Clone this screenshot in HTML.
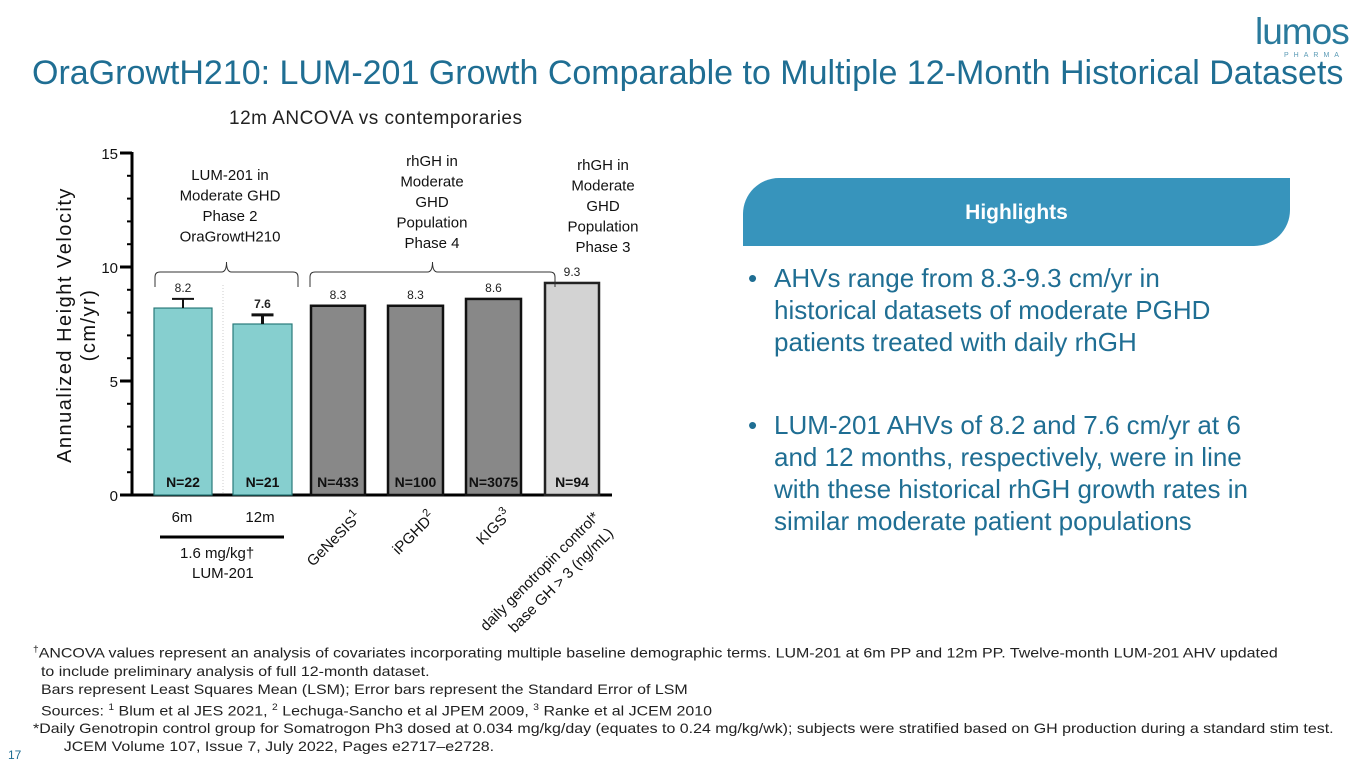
<!DOCTYPE html>
<html><head><meta charset="utf-8"><style>
body{margin:0;width:1365px;height:768px;background:#fff;position:relative;overflow:hidden;font-family:"Liberation Sans",sans-serif}
.abs{position:absolute}
</style></head><body>
<div class="abs" style="left:32px;top:54px;font-size:34px;color:#1f6e93;white-space:nowrap">OraGrowtH210: LUM-201 Growth Comparable to Multiple 12-Month Historical Datasets</div>
<div class="abs" style="left:1255px;top:12px;color:#2a7a9c;font-size:37px;letter-spacing:-1px;line-height:40px">lumos</div>
<div class="abs" style="left:1284px;top:52px;color:#5a9ab5;font-size:7px;letter-spacing:5px">PHARMA</div>
<div class="abs" style="left:229px;top:108px;font-size:19px;color:#222;letter-spacing:0.5px">12m ANCOVA vs contemporaries</div>

<svg class="abs" style="left:0;top:0" width="740" height="640">
<g id="g"></g>
</svg>

<div class="abs" style="left:743px;top:178px;width:547px;height:68px;background:#3794bc;border-radius:36px 0 36px 0;color:#fff;font-weight:bold;font-size:21px;text-align:center;line-height:70px">Highlights</div>
<div class="abs" style="left:748px;top:262px;width:600px;font-size:26px;color:#1f6e93;line-height:32px;white-space:nowrap">
<div style="display:flex"><span style="width:26px">•</span><span style="flex:1">AHVs range from 8.3-9.3 cm/yr in<br>historical datasets of moderate PGHD<br>patients treated with daily rhGH</span></div>
<div style="display:flex;margin-top:51px"><span style="width:26px">•</span><span style="flex:1">LUM-201 AHVs of 8.2 and 7.6 cm/yr at 6<br>and 12 months, respectively, were in line<br>with these historical rhGH growth rates in<br>similar moderate patient populations</span></div>
</div>
<div class="abs" style="left:33px;top:640px;font-size:14px;color:#222;line-height:18px;white-space:nowrap;transform:scaleX(1.14);transform-origin:0 0">
<div><sup style="font-size:9px">†</sup>ANCOVA values represent an analysis of covariates incorporating multiple baseline demographic terms. LUM-201 at 6m PP and 12m PP. Twelve-month LUM-201 AHV updated</div>
<div style="padding-left:7px">to include preliminary analysis of full 12-month dataset.</div>
<div style="padding-left:7px">Bars represent Least Squares Mean (LSM); Error bars represent the Standard Error of LSM</div>
<div style="padding-left:7px">Sources: <sup style="font-size:9px">1</sup> Blum et al JES 2021, <sup style="font-size:9px">2</sup> Lechuga-Sancho et al JPEM 2009, <sup style="font-size:9px">3</sup> Ranke et al JCEM 2010</div>
<div>*Daily Genotropin control group for Somatrogon Ph3 dosed at 0.034 mg/kg/day (equates to 0.24 mg/kg/wk); subjects were stratified based on GH production during a standard stim test.</div>
<div style="padding-left:27px">JCEM Volume 107, Issue 7, July 2022, Pages e2717–e2728.</div>
</div>
<div class="abs" style="left:8px;top:748px;font-size:12px;color:#1f6e93">17</div>

<script>
const categories=["6m","12m","GeNeSIS","iPGHD","KIGS","daily genotropin control*"];
const values=[8.2,7.5,8.3,8.3,8.6,9.3];
const printedValues=["8.2","7.6","8.3","8.3","8.6","9.3"];
const errors=[0.4,0.4,0,0,0,0];
const nLabels=["N=22","N=21","N=433","N=100","N=3075","N=94"];
const yTicks=[0,5,10,15];
const NS="http://www.w3.org/2000/svg";
const g=document.getElementById('g');
const y0=495,pxu=22.8,ax=132;
const y=v=>y0-v*pxu;
const barX=[154,233,311,388,466,545],barW=[58,59,54,55,55,54];
const fills=["#86cfcf","#86cfcf","#888","#888","#888","#d3d3d3"];
const strokes=["#2a7a7a","#2a7a7a","#111","#111","#111","#222"];
function el(t,a,txt){const e=document.createElementNS(NS,t);for(const k in a)e.setAttribute(k,a[k]);if(txt!=null)e.textContent=txt;g.appendChild(e);return e;}
let e=el('line',{x1:ax,y1:y(15)-1,x2:ax,y2:y0+1,stroke:'#000','stroke-width':3});


e=el('line',{x1:ax,y1:y0,x2:612,y2:y0,stroke:'#000','stroke-width':3});


for(let v=0;v<=15;v++){
 const maj=v%5===0;
 e=el('line',{x1:maj?ax-12:ax-5,y1:y(v),x2:ax,y2:y(v),stroke:'#000','stroke-width':maj?3:2});
 
 
}
yTicks.forEach(v=>{
 e=el('text',{x:ax-14,y:y(v)+6,'text-anchor':'end','font-size':15,fill:'#111'},String(v));
 
 
});
e=el('text',{transform:'translate(71,325) rotate(-90)','text-anchor':'middle','font-size':20,fill:'#111','letter-spacing':'1.5'},'Annualized Height Velocity');


e=el('text',{transform:'translate(95,325) rotate(-90)','text-anchor':'middle','font-size':20,fill:'#111','letter-spacing':'1.5'},'(cm/yr)');


e=el('line',{x1:223,y1:285,x2:223,y2:495,stroke:'#ccc','stroke-width':1,'stroke-dasharray':'1 2'});


values.forEach((v,i)=>{
 const x=barX[i],w=barW[i],cx=x+w/2;
 e=el('rect',{x:x,y:y(v),width:w,height:y0-y(v),fill:fills[i],stroke:strokes[i],'stroke-width':i<2?1.2:2.5});
 
 
 if(errors[i]>0){
  e=el('path',{d:`M${cx},${y(v)} V${y(v+errors[i])} M${cx-11},${y(v+errors[i])} H${cx+11}`,stroke:'#111','stroke-width':i===1?3:2,fill:'none'});
  
  
 }
 const top=y(v+errors[i]);
 e=el('text',{x:cx,y:top-7,'text-anchor':'middle','font-size':12,'font-weight':i===1?'bold':'normal',fill:'#222'},printedValues[i]);
 
 
 e=el('text',{x:cx,y:487,'text-anchor':'middle','font-size':14,'font-weight':'bold',fill:'#111'},nLabels[i]);
 
 
});
[[182,'6m'],[260,'12m']].forEach(([x,t])=>{e=el('text',{x:x,y:522,'text-anchor':'middle','font-size':15,fill:'#111'},t);
 
 });
const rot=[[362,518,'GeNeSIS','1'],[436,518,'iPGHD','2'],[512,516,'KIGS','3']];
rot.forEach(([x,yy,t,s])=>{e=el('text',{transform:`translate(${x},${yy}) rotate(-45)`,'text-anchor':'end','font-size':15,fill:'#111'});
 
 
 e.textContent=t;const ts=document.createElementNS(NS,'tspan');ts.setAttribute('dy','-7');ts.setAttribute('font-size','11');ts.textContent=s;e.appendChild(ts);});
e=el('text',{transform:'translate(600,518) rotate(-45)','text-anchor':'end','font-size':15,fill:'#111'},'daily genotropin control*');


e=el('text',{transform:'translate(614,534) rotate(-45)','text-anchor':'end','font-size':15,fill:'#111'},'base GH > 3 (ng/mL)');


e=el('line',{x1:160,y1:537,x2:284,y2:537,stroke:'#000','stroke-width':3});


e=el('text',{x:180,y:558,'font-size':15,fill:'#111'},'1.6 mg/kg†');


e=el('text',{x:192,y:578,'font-size':15,fill:'#111'},'LUM-201');


function brace(x1,x2,yb,name){const m=(x1+x2)/2;
 e=el('path',{d:`M${x1},${yb+15} V${yb+5} Q${x1},${yb} ${x1+5},${yb} H${m-5} Q${m},${yb} ${m},${yb-10} Q${m},${yb} ${m+5},${yb} H${x2-5} Q${x2},${yb} ${x2},${yb+5} V${yb+15}`,stroke:'#333','stroke-width':1,fill:'none'});
 
 }
brace(155,298,272,'brace-lum201');brace(310,555,272,'brace-rhgh-phase4');
function block(x,y1,lines,name){lines.forEach((t,i)=>{e=el('text',{x:x,y:y1+i*20.5,'text-anchor':'middle','font-size':15,fill:'#111'},t);
 
 });}
block(230,180,['LUM-201 in','Moderate GHD','Phase 2','OraGrowtH210'],'group-label-lum201');
block(432,166,['rhGH in','Moderate','GHD','Population','Phase 4'],'group-label-phase4');
block(603,170,['rhGH in','Moderate','GHD','Population','Phase 3'],'group-label-phase3');
</script>
</body></html>
